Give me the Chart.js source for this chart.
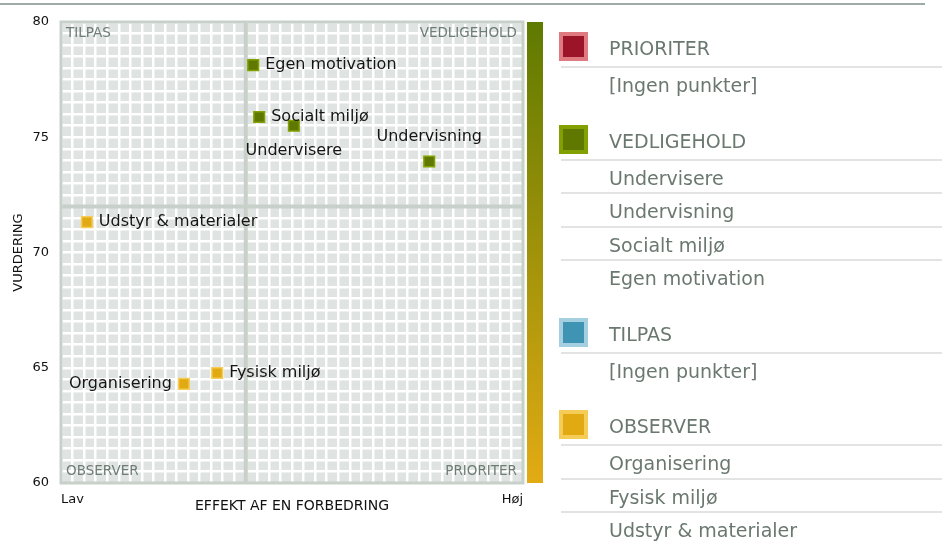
<!DOCTYPE html>
<html>
<head>
<meta charset="utf-8">
<script src="https://cdn.jsdelivr.net/npm/chart.js@4.4.1/dist/chart.umd.min.js"></script>
<style>
  body { margin: 0; background: #fff; font-family: 'DejaVu Sans', sans-serif; }
  #wrap { position: relative; width: 942px; height: 541px; overflow: hidden; }
  #chart { position: absolute; left: 0; top: 0; }
  .lg-box { position: absolute; left: 559px; width: 21px; height: 21px; border: 4px solid; }
  .lg-text { position: absolute; left: 609px; font-size: 19px; line-height: 24px; color: #6a7870; white-space: nowrap; }
  .lg-line { position: absolute; left: 561px; width: 381px; height: 2px; background: #e3e3e3; }
</style>
</head>
<body>
<div id="wrap">
  <canvas id="chart" width="942" height="541"></canvas>
  <div id="legend"></div>
</div>
<script>
// Data
const pointNames = ['Undervisere', 'Undervisning', 'Socialt miljø', 'Egen motivation', 'Organisering', 'Fysisk miljø', 'Udstyr & materialer'];
const pointGroup = ['VEDLIGEHOLD', 'VEDLIGEHOLD', 'VEDLIGEHOLD', 'VEDLIGEHOLD', 'OBSERVER', 'OBSERVER', 'OBSERVER'];
const effect = [50.4, 79.7, 42.9, 41.6, 26.6, 33.8, 5.6];      // x, 0 = Lav, 100 = Høj
const rating = [75.5, 73.95, 75.88, 78.13, 64.3, 64.77, 71.32]; // y, VURDERING
const groupNames = ['PRIORITER', 'VEDLIGEHOLD', 'TILPAS', 'OBSERVER'];
const yTicks = [60, 65, 70, 75, 80];
const xEnds = ['Lav', 'Høj'];
const splitX = 40;
const splitY = 72;
const emptyText = '[Ingen punkter]';

// Styles
const groupColors = {
    PRIORITER: { fill: '#9b1428', edge: '#de7a80' },
    VEDLIGEHOLD: { fill: '#5f7800', edge: '#82a000' },
    TILPAS: { fill: '#3f93b3', edge: '#a3cfe0' },
    OBSERVER: { fill: '#e1aa13', edge: '#f5cc55' }
};
const labelSide = { 'Undervisere': 'below', 'Undervisning': 'above', 'Organisering': 'left' }; // default right

Chart.defaults.font.family = "'DejaVu Sans', sans-serif";

// One dataset per group
const datasets = groupNames.map(g => ({
    label: g,
    data: pointNames
        .map((n, i) => pointGroup[i] === g ? { x: effect[i], y: rating[i], name: n } : null)
        .filter(Boolean),
    pointStyle: 'rect',
    pointRadius: 7.5,
    pointBorderWidth: 1.5,
    backgroundColor: groupColors[g].fill,
    borderColor: groupColors[g].edge,
    showLine: false
}));

// Background, frame, split lines, quadrant names and point labels
const quadPlugin = {
    id: 'quad',
    beforeDraw(chart) {
        const { ctx, chartArea: a } = chart;
        ctx.save();
        ctx.strokeStyle = '#7f8c87';
        ctx.lineWidth = 1.5;
        ctx.beginPath();
        ctx.moveTo(0, 4);
        ctx.lineTo(925, 4);
        ctx.stroke();
        ctx.fillStyle = '#dfe3e1';
        ctx.fillRect(a.left, a.top, a.width, a.height);
        const grad = ctx.createLinearGradient(0, a.top, 0, a.bottom);
        grad.addColorStop(0, '#5e7a00');
        grad.addColorStop(1, '#e2ab14');
        ctx.fillStyle = grad;
        ctx.fillRect(a.right + 4, a.top, 16, a.height);
        ctx.restore();
    },
    beforeDatasetsDraw(chart) {
        const { ctx, chartArea: a, scales } = chart;
        const sx = scales.x.getPixelForValue(splitX);
        const sy = scales.y.getPixelForValue(splitY);
        ctx.save();
        ctx.strokeStyle = '#c7d1c9';
        ctx.lineWidth = 4;
        ctx.beginPath();
        ctx.moveTo(sx, a.top); ctx.lineTo(sx, a.bottom);
        ctx.moveTo(a.left, sy); ctx.lineTo(a.right, sy);
        ctx.stroke();
        ctx.lineWidth = 3;
        ctx.strokeRect(a.left, a.top, a.width, a.height);
        ctx.font = "13.5px 'DejaVu Sans'";
        ctx.fillStyle = '#6d7c75';
        ctx.textBaseline = 'middle';
        ctx.textAlign = 'left';
        ctx.fillText('TILPAS', a.left + 5, a.top + 11);
        ctx.fillText('OBSERVER', a.left + 5, a.bottom - 12);
        ctx.textAlign = 'right';
        ctx.fillText('VEDLIGEHOLD', a.right - 6, a.top + 11);
        ctx.fillText('PRIORITER', a.right - 6, a.bottom - 12);
        ctx.restore();
    },
    afterDatasetsDraw(chart) {
        const { ctx } = chart;
        ctx.save();
        ctx.font = "16px 'DejaVu Sans'";
        ctx.fillStyle = '#151515';
        chart.data.datasets.forEach((ds, di) => {
            chart.getDatasetMeta(di).data.forEach((pt, i) => {
                const name = ds.data[i].name;
                const side = labelSide[name] || 'right';
                ctx.textBaseline = 'middle';
                if (side === 'right') {
                    ctx.textAlign = 'left';
                    ctx.fillText(name, pt.x + 12, pt.y);
                } else if (side === 'left') {
                    ctx.textAlign = 'right';
                    ctx.fillText(name, pt.x - 12, pt.y);
                } else if (side === 'below') {
                    ctx.textAlign = 'center';
                    ctx.fillText(name, pt.x, pt.y + 25);
                } else {
                    ctx.textAlign = 'center';
                    ctx.fillText(name, pt.x, pt.y - 25);
                }
            });
        });
        ctx.restore();
    }
};

new Chart(document.getElementById('chart'), {
    type: 'scatter',
    data: { datasets },
    options: {
        responsive: false,
        maintainAspectRatio: false,
        animation: false,
        layout: { padding: { top: 22, right: 419, bottom: 0, left: 0 } },
        plugins: { legend: { display: false }, tooltip: { enabled: false } },
        scales: {
            x: {
                type: 'linear', min: 0, max: 100,
                afterFit: s => { s.height = 58; },
                grid: { color: '#ffffff', lineWidth: 2.5, drawTicks: false },
                border: { display: false },
                ticks: {
                    stepSize: 2.5, maxTicksLimit: 100, autoSkip: false, maxRotation: 0,
                    align: 'inner', padding: 9, color: '#111', font: { size: 13 },
                    callback: v => v === 0 ? xEnds[0] : (v === 100 ? xEnds[1] : '')
                },
                title: { display: true, text: 'EFFEKT AF EN FORBEDRING', color: '#111', font: { size: 14 }, padding: { top: 0, bottom: 26 } }
            },
            y: {
                type: 'linear', min: 60, max: 80,
                afterFit: s => { s.width = 61; },
                grid: { color: '#ffffff', lineWidth: 2.5, drawTicks: false },
                border: { display: false },
                ticks: {
                    stepSize: 0.5, maxTicksLimit: 100, autoSkip: false,
                    padding: 12, color: '#111', font: { size: 13 },
                    callback: v => yTicks.includes(v) ? String(v) : ''
                },
                title: { display: true, text: 'VURDERING', color: '#111', font: { size: 13 }, padding: { top: 11, bottom: 0 } }
            }
        }
    },
    plugins: [quadPlugin]
});

// HTML legend built from the same arrays
const legend = document.getElementById('legend');
function addEl(cls, top, text) {
    const el = document.createElement('div');
    el.className = cls;
    el.style.top = top + 'px';
    if (text !== undefined) el.textContent = text;
    legend.appendChild(el);
    return el;
}
let y = 32;
groupNames.forEach(g => {
    const members = pointNames.filter((n, i) => pointGroup[i] === g);
    const box = addEl('lg-box', y);
    box.style.background = groupColors[g].fill;
    box.style.borderColor = groupColors[g].edge;
    addEl('lg-text', y + 16 - 12, g);
    const lineY = y + 35;
    addEl('lg-line', lineY - 1);
    const items = members.length ? members : [emptyText];
    let last = 0;
    items.forEach((name, k) => {
        const cy = lineY + 18 + 33.5 * k;
        addEl('lg-text', cy - 12, name);
        if (k < items.length - 1) addEl('lg-line', lineY + 33.5 * (k + 1) - 1);
        last = cy;
    });
    y = last + 39.5;
});
</script>
</body>
</html>
